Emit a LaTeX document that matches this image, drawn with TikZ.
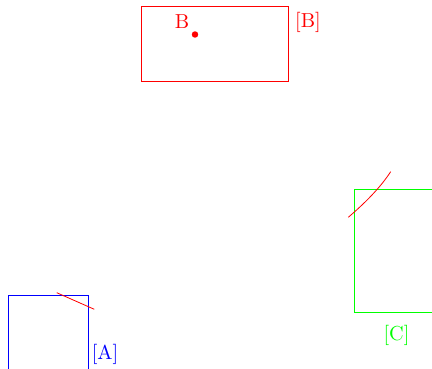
\documentclass[tikz,border=0pt]{standalone}
\begin{document}
\begin{tikzpicture}[x=0.4935pt,y=-0.4935pt,
  frame/.style={draw,line width=0.4pt,inner sep=0pt,outer sep=0pt},
  curve/.style={draw=red,line width=0.4pt},
  lab/.style={inner sep=0pt}]
\useasboundingbox (0,0) rectangle (432,369);
\clip (0,0) rectangle (432,369);
% B box
\coordinate (b1) at (141,6.5);
\coordinate (b2) at (288.5,81.5);
\draw[frame,red] (b1) rectangle (b2);
\fill[red] (195,34.5) circle (1.6pt) coordinate (bdot);
\node[lab,red] (blab) at (182,22) {B};
\node[lab,red] (bname) at (308,22) {[B]};
% A box
\coordinate (a1) at (8,295);
\coordinate (a2) at (88,380);
\draw[frame,blue] (a1) rectangle (a2);
\node[lab,blue] (aname) at (105,354) {[A]};
\coordinate (ra1) at (56.7,292.7);
\coordinate (ra2) at (94.3,309.3);
\draw[curve] (ra1) -- (ra2);
% C box
\coordinate (c1) at (354,189);
\coordinate (c2) at (445,312.5);
\draw[frame,green] (c1) rectangle (c2);
\node[lab,green] (cname) at (396.5,335) {[C]};
\coordinate (rc1) at (348.3,217.3);
\coordinate (rc2) at (390.7,171.7);
\draw[curve] (rc1) .. controls (365,203) and (380,188) .. (rc2);
\end{tikzpicture}
\end{document}
